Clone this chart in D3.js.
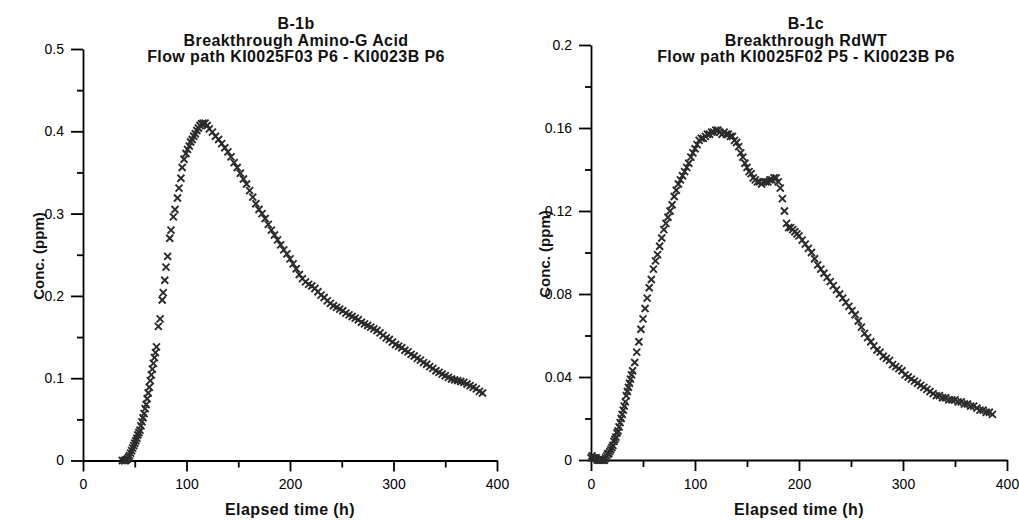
<!DOCTYPE html>
<html>
<head>
<meta charset="utf-8">
<script src="https://cdn.jsdelivr.net/npm/d3@7"></script>
<style>
  html, body { margin: 0; padding: 0; background: #fff; }
  svg { display: block; font-family: "Liberation Sans", Arial, sans-serif; }
  .axis path, .axis line { stroke: #000; stroke-width: 1.8; }
  .axis text { font-size: 14px; fill: #000; }
  .title { font-size: 16px; font-weight: bold; text-anchor: middle; fill: #111; letter-spacing: 0.4px; }
  .label { font-size: 16px; font-weight: bold; text-anchor: middle; fill: #111; letter-spacing: 0.4px; }
  .ylabel { font-size: 15px; font-weight: bold; text-anchor: middle; fill: #111; }
</style>
</head>
<body>
<div id="chart"></div>
<script>
// B-1b Amino-G Acid breakthrough (time h, conc ppm)
const timeB1b = [
  38, 40, 41, 42, 43, 44, 45, 46, 47, 48, 49, 50, 51, 52, 53, 54, 55, 56, 57, 58, 59, 60,
  61, 62, 63, 64, 65, 66, 67, 68, 69, 70, 71,
  72.8, 74.5, 76.5, 77.5, 79, 80.2, 81.8, 83.8, 85, 87.3, 88.9, 91.3, 92.8, 94.6, 95.8,
  97.6, 99.5, 101, 102.7, 104, 105.5, 107, 108.5, 110, 111.5, 113, 114.5,
  116, 118, 120, 122, 125, 128, 131, 134, 137, 140, 143, 146, 149, 152, 155, 158, 161,
  164, 167, 170, 173, 176, 179, 182, 185, 188, 191, 194, 197, 200, 203, 206, 209, 212,
  215, 218, 221, 224, 227, 230, 233, 236, 239, 242, 245, 248, 251, 254, 257, 260, 263,
  266, 269, 272, 275, 278, 281, 284, 287, 290, 293, 296, 299, 302, 305, 308, 311, 314,
  317, 320, 323, 326, 329, 332, 335, 338, 341, 344, 347, 350, 353, 356, 359, 362, 365,
  368, 371, 374, 377, 380, 383, 386
]
const concB1b = [
  0.000, 0.000, 0.000, 0.001, 0.002, 0.004, 0.006, 0.009, 0.012, 0.015, 0.018, 0.021, 0.024, 0.027, 0.031, 0.034, 0.037, 0.042, 0.047, 0.052, 0.057, 0.063,
  0.068, 0.075, 0.082, 0.089, 0.097, 0.104, 0.111, 0.118, 0.125, 0.131, 0.138,
  0.163, 0.172, 0.195, 0.204, 0.219, 0.235, 0.248, 0.270, 0.280, 0.296, 0.305, 0.319, 0.331, 0.343, 0.356,
  0.366, 0.373, 0.378, 0.382, 0.387, 0.390, 0.394, 0.397, 0.401, 0.404, 0.407, 0.409,
  0.410, 0.410, 0.407, 0.403, 0.399, 0.394, 0.390, 0.385, 0.380, 0.375, 0.369, 0.362, 0.356, 0.349, 0.342, 0.336, 0.328,
  0.320, 0.312, 0.305, 0.300, 0.294, 0.287, 0.280, 0.274, 0.268, 0.262, 0.256, 0.251, 0.245, 0.239, 0.233, 0.226, 0.221,
  0.217, 0.214, 0.212, 0.209, 0.205, 0.201, 0.198, 0.194, 0.191, 0.188, 0.186, 0.184, 0.182, 0.179, 0.177, 0.175, 0.173,
  0.171, 0.168, 0.166, 0.164, 0.162, 0.160, 0.158, 0.155, 0.152, 0.149, 0.147, 0.144, 0.141, 0.139, 0.137, 0.134, 0.132,
  0.129, 0.127, 0.124, 0.122, 0.119, 0.117, 0.114, 0.112, 0.109, 0.107, 0.105, 0.103, 0.101, 0.099, 0.098, 0.097, 0.096,
  0.095, 0.093, 0.091, 0.089, 0.087, 0.084, 0.082
]

// B-1c RdWT breakthrough (time h, conc ppm)
const timeB1c = [
  0, 1, 2, 3, 4, 5, 6, 7, 8, 9, 10, 11, 12, 13, 14, 15, 16, 17, 18, 19, 20, 21, 22, 23, 24,
  25, 26, 27, 28, 29, 30, 31, 32, 33, 34, 35, 36, 37, 38, 39, 40,
  42, 44, 46, 48, 50, 52, 54, 56, 58, 60, 62, 64, 66, 68, 70, 72, 74, 76, 78, 80, 82, 84,
  86, 88, 90, 92, 94, 96, 98, 100, 102, 104, 106, 108, 110, 112, 114, 116, 118, 120, 122,
  124, 126, 128, 130, 132, 134, 136, 138, 140, 142, 144, 146, 148, 150, 152, 154, 156, 158,
  160, 162, 164, 166, 168, 170, 172, 174, 176, 178, 180, 182, 184, 186, 188, 190, 192, 194,
  196, 198, 200, 203, 206, 209, 212, 215, 218, 221, 224, 227, 230, 233, 236, 239, 242, 245,
  248, 251, 254, 257, 260, 263, 266, 269, 272, 275, 278, 281, 284, 287, 290, 293, 296, 299,
  302, 305, 308, 311, 314, 317, 320, 323, 326, 329, 332, 335, 338, 341, 344, 347, 350, 353,
  356, 359, 362, 365, 368, 371, 374, 377, 380, 383, 386
]
const concB1c = [
  0.001, 0.002, 0.001, 0.001, 0.001, 0.001, 0.000, 0.000, 0.000, 0.000, 0.000, 0.000, 0.000, 0.000, 0.001, 0.002, 0.003, 0.003, 0.004, 0.005, 0.006, 0.007, 0.009, 0.010, 0.011,
  0.013, 0.014, 0.016, 0.018, 0.020, 0.022, 0.024, 0.026, 0.028, 0.031, 0.033, 0.035, 0.037, 0.039, 0.041, 0.043,
  0.047, 0.052, 0.057, 0.063, 0.068, 0.073, 0.078, 0.083, 0.087, 0.092, 0.096, 0.099, 0.103, 0.107, 0.111, 0.114, 0.117, 0.120, 0.123, 0.127, 0.130, 0.133,
  0.135, 0.137, 0.139, 0.141, 0.143, 0.146, 0.148, 0.150, 0.152, 0.154, 0.155, 0.155, 0.156, 0.157, 0.157, 0.158, 0.158, 0.159, 0.159,
  0.158, 0.157, 0.158, 0.157, 0.157, 0.156, 0.156, 0.154, 0.153, 0.151, 0.148, 0.146, 0.143, 0.141, 0.139, 0.138, 0.136, 0.135,
  0.134, 0.134, 0.133, 0.134, 0.134, 0.134, 0.135, 0.135, 0.136, 0.136, 0.134, 0.131, 0.126, 0.120, 0.114, 0.112, 0.112, 0.111,
  0.110, 0.109, 0.108, 0.106, 0.104, 0.102, 0.100, 0.097, 0.094, 0.092, 0.090, 0.088, 0.086, 0.084, 0.082, 0.080, 0.078, 0.076,
  0.074, 0.072, 0.070, 0.067, 0.064, 0.061, 0.059, 0.057, 0.055, 0.053, 0.052, 0.050, 0.049, 0.048, 0.046, 0.045, 0.044, 0.043,
  0.041, 0.040, 0.039, 0.038, 0.037, 0.036, 0.035, 0.034, 0.033, 0.032, 0.031, 0.031, 0.030, 0.030, 0.029, 0.029, 0.029, 0.028,
  0.028, 0.027, 0.027, 0.026, 0.026, 0.025, 0.024, 0.024, 0.023, 0.023, 0.022
]

const xTicks = [0, 100, 200, 300, 400]
const xMinor = [50, 150, 250, 350]
const yTicksB1b = [0, 0.1, 0.2, 0.3, 0.4, 0.5]
const yMinorB1b = [0.05, 0.15, 0.25, 0.35, 0.45]
const yTicksB1c = [0, 0.04, 0.08, 0.12, 0.16, 0.2]
const yMinorB1c = [0.02, 0.06, 0.1, 0.14, 0.18]

const panels = [
  {
    titles: ['B-1b', 'Breakthrough Amino-G Acid', 'Flow path KI0025F03 P6 - KI0023B P6'],
    time: timeB1b, conc: concB1b,
    yMax: 0.5, yTicks: yTicksB1b, yMinor: yMinorB1b,
    left: 83, right: 497, top: 49, bottom: 460.5, titleX: 296, ylabX: 44, ylabY: 256
  },
  {
    titles: ['B-1c', 'Breakthrough RdWT', 'Flow path KI0025F02 P5 - KI0023B P6'],
    time: timeB1c, conc: concB1c,
    yMax: 0.2, yTicks: yTicksB1c, yMinor: yMinorB1c,
    left: 591, right: 1007, top: 45, bottom: 460, titleX: 806, ylabX: 550, ylabY: 254
  }
]

const W = 1019, H = 520
const svg = d3.select('#chart').append('svg')
  .attr('width', W).attr('height', H)

panels.forEach(p => {
  const x = d3.scaleLinear().domain([0, 400]).range([p.left, p.right])
  const y = d3.scaleLinear().domain([0, p.yMax]).range([p.bottom, p.top])
  const g = svg.append('g')

  // titles
  p.titles.forEach((t, i) => {
    g.append('text').attr('class', 'title')
      .attr('x', p.titleX).attr('y', 29 + i * 16.5).text(t)
  })

  // minor ticks first (no labels)
  g.append('g').attr('class', 'axis')
    .attr('transform', 'translate(0,' + p.bottom + ')')
    .call(d3.axisBottom(x).tickValues(xMinor).tickSize(7).tickFormat(''))
    .select('.domain').remove()
  g.append('g').attr('class', 'axis')
    .attr('transform', 'translate(' + p.left + ',0)')
    .call(d3.axisLeft(y).tickValues(p.yMinor).tickSize(6).tickFormat(''))
    .select('.domain').remove()

  // major axes
  g.append('g').attr('class', 'axis')
    .attr('transform', 'translate(0,' + p.bottom + ')')
    .call(d3.axisBottom(x).tickValues(xTicks).tickSize(11).tickSizeOuter(0).tickPadding(8))
  g.append('g').attr('class', 'axis')
    .attr('transform', 'translate(' + p.left + ',0)')
    .call(d3.axisLeft(y).tickValues(p.yTicks).tickSize(12).tickSizeOuter(0).tickPadding(7)
      .tickFormat(d => d === 0 ? '0' : String(d)))

  // axis titles
  g.append('text').attr('class', 'label')
    .attr('x', (p.left + p.right) / 2).attr('y', 515).text('Elapsed time (h)')
  g.append('text').attr('class', 'ylabel')
    .attr('transform', 'translate(' + p.ylabX + ',' + p.ylabY + ') rotate(-90)')
    .text('Conc. (ppm)')

  // cross markers
  const pts = p.time.map((t, i) => [t, p.conc[i]])
  g.append('g').selectAll('path')
    .data(pts).join('path')
    .attr('transform', d => 'translate(' + x(d[0]) + ',' + y(d[1]) + ')')
    .attr('d', 'M-3.5,-3.5L3.5,3.5M-3.5,3.5L3.5,-3.5')
    .attr('stroke', '#2b2b2b')
    .attr('stroke-width', 1.9)
    .attr('fill', 'none')
})
</script>
</body>
</html>
